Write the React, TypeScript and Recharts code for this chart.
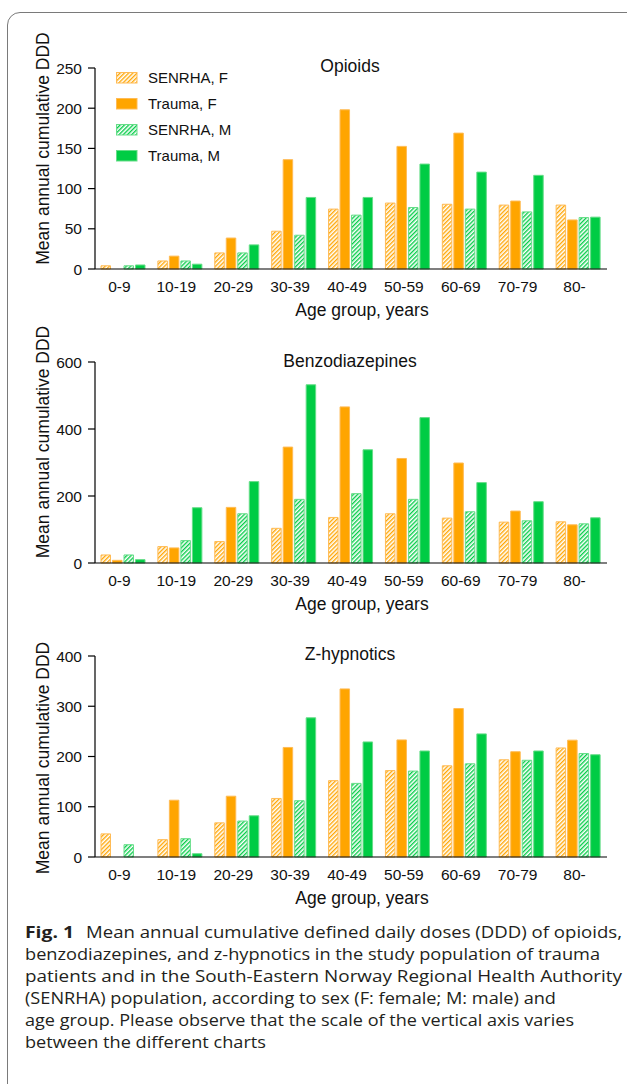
import React from 'react';
import { BarChart, Bar, XAxis, YAxis, Legend } from 'recharts';

const ageGroups = ['0-9', '10-19', '20-29', '30-39', '40-49', '50-59', '60-69', '70-79', '80-'];

const seriesNames = ['SENRHA, F', 'Trauma, F', 'SENRHA, M', 'Trauma, M'];

const opioidSenrhaF = [4, 10, 20, 47, 74.5, 82, 80.5, 79.5, 79.5];
const opioidTraumaF = [0, 16, 38.5, 136, 198, 152.5, 169, 84.5, 61];
const opioidSenrhaM = [4, 10, 20, 42, 67, 76.5, 74.5, 71, 64];
const opioidTraumaM = [5, 6, 30, 89, 89, 130.5, 120.5, 116.5, 64.5];

const benzoSenrhaF = [24, 49, 64, 103.5, 136, 147, 134, 122, 123];
const benzoTraumaF = [8, 45, 166, 346, 466, 312, 298.5, 155, 114];
const benzoSenrhaM = [24, 67, 147, 190, 207, 190, 153, 126, 117];
const benzoTraumaM = [10, 165, 243, 532, 338, 434, 240, 183, 135];

const zSenrhaF = [46, 34.5, 68, 116.5, 152, 172, 181.5, 193.5, 217];
const zTraumaF = [0, 113, 121, 218, 334.5, 233, 295.5, 209.5, 232.5];
const zSenrhaM = [24.5, 36.5, 71.5, 112, 146.5, 171, 185.5, 192.5, 206];
const zTraumaM = [0, 6.5, 82, 277, 229, 211, 245, 211, 203.5];

const opioidTicks = [0, 50, 100, 150, 200, 250];
const benzoTicks = [0, 200, 400, 600];
const zTicks = [0, 100, 200, 300, 400];

const panelTitles = ['Opioids', 'Benzodiazepines', 'Z-hypnotics'];
const xAxisTitle = 'Age group, years';
const yAxisTitle = 'Mean annual cumulative DDD';

const captionBold = 'Fig. 1';
const captionLines = [
  'Mean annual cumulative defined daily doses (DDD) of opioids,',
  'benzodiazepines, and z-hypnotics in the study population of trauma',
  'patients and in the South-Eastern Norway Regional Health Authority',
  '(SENRHA) population, according to sex (F: female; M: male) and',
  'age group. Please observe that the scale of the vertical axis varies',
  'between the different charts',
];

const ORANGE = '#ffa500';
const ORANGE_EDGE = '#ffbb55';
const GREEN = '#00cc44';
const GREEN_EDGE = '#66dd88';
const CHART_FONT = '"Liberation Sans", Arial, Helvetica, sans-serif';

const XTick = (props: any) => {
  const { x, y, payload } = props;
  return (
    <text x={x - 4} y={y} dy="0.71em" textAnchor="middle" fontSize={15.5} fill="#111">
      {payload.value}
    </text>
  );
};

const swatchStyle = (id: string, key: string) => {
  if (key === 'sF') return { fill: `url(#${id}-hf)`, stroke: ORANGE_EDGE };
  if (key === 'tF') return { fill: ORANGE, stroke: ORANGE_EDGE };
  if (key === 'sM') return { fill: `url(#${id}-hm)`, stroke: GREEN_EDGE };
  return { fill: GREEN, stroke: GREEN_EDGE };
};

const makeLegend = (id: string) => (props: any) => {
  const items = [...(props.payload || [])].sort(
    (a: any, b: any) => seriesNames.indexOf(a.value) - seriesNames.indexOf(b.value)
  );
  return (
    <div>
      {items.map((p: any) => {
        const st = swatchStyle(id, p.dataKey);
        return (
          <div key={p.dataKey} style={{ display: 'flex', alignItems: 'center', height: 26 }}>
            <svg width={22} height={12} style={{ display: 'block' }}>
              <rect x={0.5} y={0.5} width={20.5} height={10.5} fill={st.fill} stroke={st.stroke} strokeWidth={1} />
            </svg>
            <span style={{ marginLeft: 10, fontSize: 15, color: '#111', fontFamily: CHART_FONT, lineHeight: '26px' }}>
              {p.value}
            </span>
          </div>
        );
      })}
    </div>
  );
};

type PanelProps = {
  id: string;
  plotTop: number;
  sF: number[];
  tF: number[];
  sM: number[];
  tM: number[];
  ticks: number[];
  showLegend?: boolean;
};

function Panel({ id, plotTop, sF, tF, sM, tM, ticks, showLegend }: PanelProps) {
  const data = ageGroups.map((g, i) => ({ group: g, sF: sF[i], tF: tF[i], sM: sM[i], tM: tM[i] }));
  const MT = 20;
  const PH = 201;
  const XH = 50;
  return (
    <div style={{ position: 'absolute', left: 0, top: plotTop - MT, fontFamily: CHART_FONT }}>
      <BarChart
        width={627}
        height={MT + PH + XH}
        data={data}
        margin={{ top: MT, right: 20, left: 35, bottom: 0 }}
        barSize={9.5}
        barGap={2}
      >
        <defs>
          <pattern id={`${id}-hf`} patternUnits="userSpaceOnUse" width="3" height="3" patternTransform="rotate(45)">
            <rect width="3" height="3" fill="#ffffff" />
            <line x1="0.7" y1="0" x2="0.7" y2="3" stroke={ORANGE} strokeWidth="1.35" />
          </pattern>
          <pattern id={`${id}-hm`} patternUnits="userSpaceOnUse" width="3" height="3" patternTransform="rotate(45)">
            <rect width="3" height="3" fill="#ffffff" />
            <line x1="0.7" y1="0" x2="0.7" y2="3" stroke={GREEN} strokeWidth="1.35" />
          </pattern>
        </defs>
        <XAxis
          dataKey="group"
          interval={0}
          height={XH}
          axisLine={{ stroke: '#000', strokeWidth: 1.2 }}
          tickLine={false}
          tickSize={0}
          tickMargin={12}
          tick={<XTick />}
        />
        <YAxis
          type="number"
          domain={[0, ticks[ticks.length - 1]]}
          ticks={ticks}
          interval={0}
          width={60}
          axisLine={{ stroke: '#000', strokeWidth: 1.2 }}
          tickLine={{ stroke: '#000', strokeWidth: 1.2 }}
          tickSize={7}
          tickMargin={6}
          tick={{ fill: '#111', fontSize: 15.5 }}
        />
        {showLegend && (
          <Legend
            layout="vertical"
            align="center"
            verticalAlign="middle"
            itemSorter={(item: any) => seriesNames.indexOf(item.value)}
            wrapperStyle={{ left: 116, top: 17, width: 200 }}
            content={makeLegend(id)}
          />
        )}
        <Bar dataKey="sF" name={seriesNames[0]} fill={`url(#${id}-hf)`} stroke={ORANGE_EDGE} strokeWidth={1} isAnimationActive={false} />
        <Bar dataKey="tF" name={seriesNames[1]} fill={ORANGE} stroke={ORANGE_EDGE} strokeWidth={1} isAnimationActive={false} />
        <Bar dataKey="sM" name={seriesNames[2]} fill={`url(#${id}-hm)`} stroke={GREEN_EDGE} strokeWidth={1} isAnimationActive={false} />
        <Bar dataKey="tM" name={seriesNames[3]} fill={GREEN} stroke={GREEN_EDGE} strokeWidth={1} isAnimationActive={false} />
      </BarChart>
    </div>
  );
}

const titleY = [66, 360.7, 654];
const axisTitleY = [310, 604.3, 897.7];
const yLabelY = [148.5, 442, 758];
const captionBaselines = [938, 960, 982, 1004, 1026, 1048];
const captionLengths = [536, 575, 597, 531, 549, 241];

export default function App() {
  return (
    <div
      style={{
        position: 'absolute',
        left: 0,
        top: 0,
        width: 627,
        height: 1084,
        overflow: 'hidden',
        background: '#fff',
      }}
    >
      <div
        style={{
          position: 'absolute',
          left: 6.5,
          top: 12,
          width: 640,
          height: 1100,
          border: '1.5px solid #7a7a7a',
          borderRadius: 13,
          boxSizing: 'border-box',
        }}
      />
      <Panel id="op" plotTop={68} sF={opioidSenrhaF} tF={opioidTraumaF} sM={opioidSenrhaM} tM={opioidTraumaM} ticks={opioidTicks} showLegend />
      <Panel id="bz" plotTop={362} sF={benzoSenrhaF} tF={benzoTraumaF} sM={benzoSenrhaM} tM={benzoTraumaM} ticks={benzoTicks} />
      <Panel id="zh" plotTop={656} sF={zSenrhaF} tF={zTraumaF} sM={zSenrhaM} tM={zTraumaM} ticks={zTicks} />
      <svg
        width={627}
        height={1084}
        style={{ position: 'absolute', left: 0, top: 0, pointerEvents: 'none' }}
      >
        <g fontFamily={CHART_FONT} fill="#111">
          {panelTitles.map((t, i) => (
            <text key={t} x={350} y={titleY[i]} textAnchor="middle" dominantBaseline="central" fontSize={17.5}>
              {t}
            </text>
          ))}
          {axisTitleY.map((y, i) => (
            <text key={'ax' + i} x={362} y={y} textAnchor="middle" dominantBaseline="central" fontSize={17.5}>
              {xAxisTitle}
            </text>
          ))}
          {yLabelY.map((y, i) => (
            <text
              key={'yl' + i}
              x={42.5}
              y={y}
              textAnchor="middle"
              dominantBaseline="central"
              fontSize={17.5}
              transform={`rotate(-90 42.5 ${y})`}
            >
              {yAxisTitle}
            </text>
          ))}
        </g>
        <g fontFamily='"Open Sans", "Noto Sans", sans-serif' fill="#231f20" fontSize={16.5}>
          <text x={25} y={captionBaselines[0]} fontWeight="bold" textLength={49} lengthAdjust="spacingAndGlyphs">
            {captionBold}
          </text>
          {captionLines.map((line, i) => (
            <text
              key={'c' + i}
              x={i === 0 ? 86 : 25}
              y={captionBaselines[i]}
              textLength={captionLengths[i]}
              lengthAdjust="spacingAndGlyphs"
            >
              {line}
            </text>
          ))}
        </g>
      </svg>
    </div>
  );
}
